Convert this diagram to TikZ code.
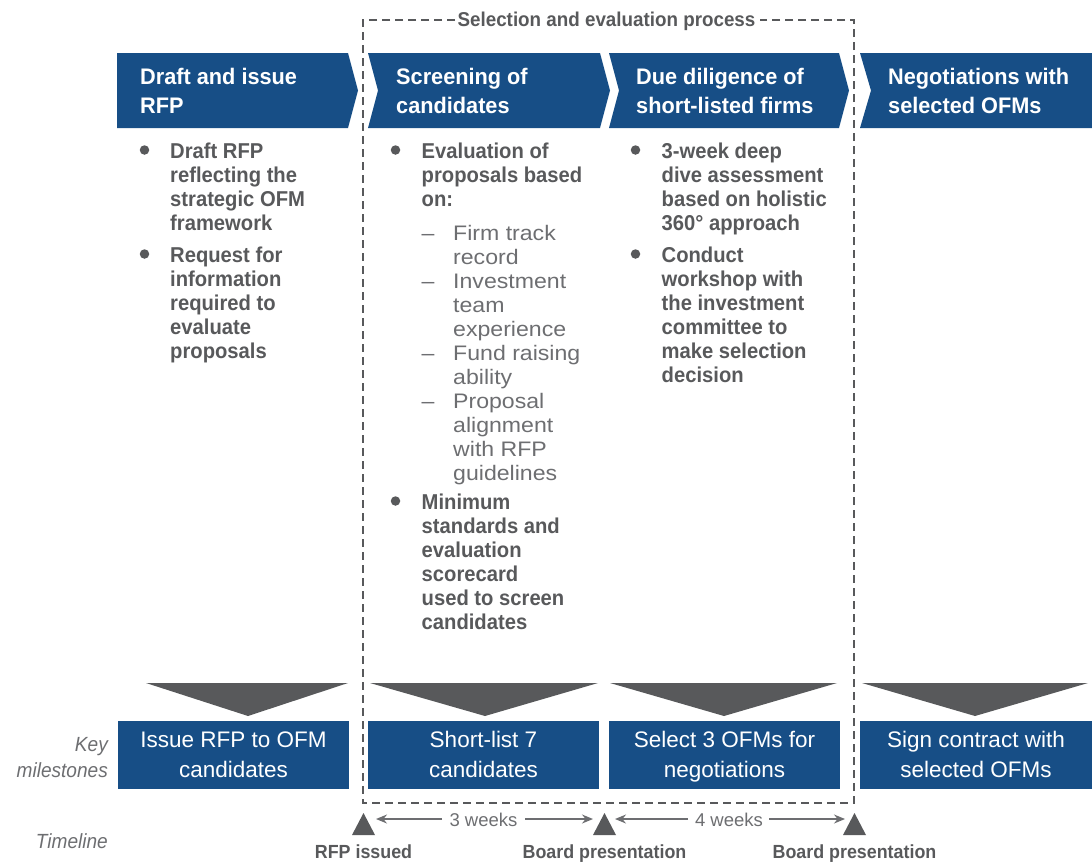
\documentclass[tikz,border=0pt]{standalone}
\usepackage{fontspec}
\setmainfont{Liberation Sans}
\newfontfamily\hdfont{Liberation Sans}[FakeStretch=0.965]
\newfontfamily\bdfont{Liberation Sans}[FakeStretch=0.94]
\newfontfamily\rgfont{Liberation Sans}[FakeStretch=1.1]
\newfontfamily\msfont{Liberation Sans}[FakeStretch=1.0]
\newfontfamily\sdfont{Liberation Sans}[FakeStretch=0.93]
\usetikzlibrary{arrows.meta}
\definecolor{oblue}{HTML}{174E86}
\definecolor{tgray}{HTML}{58595B}
\definecolor{lgray}{HTML}{6D6E71}
\newcommand\tlines[1]{\begin{tabular}[t]{@{}l@{}}#1\end{tabular}}
\newcommand\clines[1]{\begin{tabular}[t]{@{}c@{}}#1\end{tabular}}
\newcommand\rlines[1]{\begin{tabular}[t]{@{}r@{}}#1\end{tabular}}
\begin{document}
\begin{tikzpicture}[x=1pt,y=-1pt,
  chev/.style={fill=oblue},
  mbox/.style={fill=oblue},
  tri/.style={fill=tgray},
  hd/.style={anchor=base west, inner sep=0, text=white, font=\hdfont\bfseries\fontsize{22.5}{29}\selectfont},
  bd/.style={anchor=base west, inner sep=0, text=tgray, font=\bdfont\bfseries\fontsize{21.5}{24}\selectfont},
  bul/.style={circle, fill=tgray, inner sep=0, minimum size=9.5pt},
  rg/.style={anchor=base west, inner sep=0, text=lgray, font=\rgfont\fontsize{21}{24}\selectfont},
  ms/.style={anchor=base, inner sep=0, text=white, font=\msfont\fontsize{22.5}{30}\selectfont},
  side/.style={anchor=base east, inner sep=0, text=lgray, font=\sdfont\itshape\fontsize{20.5}{26}\selectfont},
  tlab/.style={anchor=base, inner sep=0, text=tgray, font=\bdfont\bfseries\fontsize{19}{22}\selectfont},
  wk/.style={anchor=base, inner sep=0, text=lgray, font=\msfont\fontsize{18.5}{22}\selectfont},
  ttl/.style={anchor=base, inner sep=0, text=tgray, font=\bdfont\bfseries\fontsize{20}{24}\selectfont},
  dbox/.style={draw=tgray, line width=2.4pt, dash pattern=on 8pt off 5pt},
  arr/.style={draw=lgray, line width=1.3pt, -{Stealth[length=11pt,width=9pt]}}]
\useasboundingbox (0,0) rectangle (1092,863);

% header chevrons
\fill[chev] (117,53) -- (348,53) -- (358,90.5) -- (348,128) -- (117,128) -- cycle;
\fill[chev] (368,53) -- (600,53) -- (610,90.5) -- (600,128) -- (368,128) -- (378,90.5) -- cycle;
\fill[chev] (609,53) -- (839,53) -- (849,90.5) -- (839,128) -- (609,128) -- (619,90.5) -- cycle;
\fill[chev] (860,53) -- (1092,53) -- (1092,128) -- (860,128) -- (871,90.5) -- cycle;
\node[hd] (h1) at (140,84) {\tlines{Draft and issue\\RFP}};
\node[hd] (h2) at (396,84) {\tlines{Screening of\\candidates}};
\node[hd] (h3) at (636,84) {\tlines{Due diligence of\\short-listed firms}};
\node[hd] (h4) at (888,84) {\tlines{Negotiations with\\selected OFMs}};

% dashed selection box
\draw[dbox] (455,20) -- (363,20) -- (363,803) -- (854,803) -- (854,20) -- (760,20);
\node[ttl] (title) at (606.5,26.5) {Selection and evaluation process};

% column 1
\node[bul] (b11) at (144.5,150) {};
\node[bd] (p11) at (170,158) {\tlines{Draft RFP\\reflecting the\\strategic OFM\\framework}};
\node[bul] (b12) at (144.5,254) {};
\node[bd] (p12) at (170,262) {\tlines{Request for\\information\\required to\\evaluate\\proposals}};

% column 2
\node[bul] (b21) at (395.5,150) {};
\node[bd] (p21) at (421.5,158) {\tlines{Evaluation of\\proposals based\\on:}};
\node[rg] (d1) at (421.5,240) {\textendash};
\node[rg] (s1) at (453,240) {\tlines{Firm track\\record}};
\node[rg] (d2) at (421.5,288) {\textendash};
\node[rg] (s2) at (453,288) {\tlines{Investment\\team\\experience}};
\node[rg] (d3) at (421.5,360) {\textendash};
\node[rg] (s3) at (453,360) {\tlines{Fund raising\\ability}};
\node[rg] (d4) at (421.5,408) {\textendash};
\node[rg] (s4) at (453,408) {\tlines{Proposal\\alignment\\with RFP\\guidelines}};
\node[bul] (b22) at (395.5,501) {};
\node[bd] (p22) at (421.5,509) {\tlines{Minimum\\standards and\\evaluation\\scorecard\\used to screen\\candidates}};

% column 3
\node[bul] (b31) at (635.5,150) {};
\node[bd] (p31) at (661.5,158) {\tlines{3-week deep\\dive assessment\\based on holistic\\360° approach}};
\node[bul] (b32) at (635.5,254) {};
\node[bd] (p32) at (661.5,262) {\tlines{Conduct\\workshop with\\the investment\\committee to\\make selection\\decision}};

% milestone triangles
\fill[tri] (146,683) -- (348,683) -- (248,716) -- cycle;
\fill[tri] (370,683) -- (598,683) -- (485,716) -- cycle;
\fill[tri] (610,683) -- (837,683) -- (724,716) -- cycle;
\fill[tri] (862,683) -- (1088,683) -- (975,716) -- cycle;

% milestone boxes
\fill[mbox] (118,721) rectangle (349,789);
\fill[mbox] (368,721) rectangle (599,789);
\fill[mbox] (609,721) rectangle (840,789);
\fill[mbox] (860,721) rectangle (1092,789);
\node[ms] (m1) at (233.5,747) {\clines{Issue RFP to OFM\\candidates}};
\node[ms] (m2) at (483.5,747) {\clines{Short-list 7\\candidates}};
\node[ms] (m3) at (724.5,747) {\clines{Select 3 OFMs for\\negotiations}};
\node[ms] (m4) at (976,747) {\clines{Sign contract with\\selected OFMs}};

% side labels
\node[side] (key) at (108,751) {\rlines{Key\\milestones}};
\node[side] (tline) at (108,848) {Timeline};

% timeline markers
\fill[tri] (352,835) -- (375,835) -- (363.5,813) -- cycle;
\fill[tri] (593,835) -- (616,835) -- (604.5,813) -- cycle;
\fill[tri] (843,835) -- (866,835) -- (854.5,813) -- cycle;
\node[tlab] (l1) at (363.5,858) {RFP issued};
\node[tlab] (l2) at (604.5,858) {Board presentation};
\node[tlab] (l3) at (854.5,858) {Board presentation};

% durations
\node[wk] (w1) at (483.5,826) {3 weeks};
\node[wk] (w2) at (729,826) {4 weeks};
\coordinate (a1) at (376,819);
\coordinate (a1l) at (442,819);
\coordinate (a1r) at (525,819);
\coordinate (a2) at (593,819);
\coordinate (a2b) at (615,819);
\coordinate (a2l) at (688,819);
\coordinate (a2r) at (769,819);
\coordinate (a3) at (845,819);
\draw[arr] (a1l) -- (a1);
\draw[arr] (a1r) -- (a2);
\draw[arr] (a2l) -- (a2b);
\draw[arr] (a2r) -- (a3);
\end{tikzpicture}
\end{document}
